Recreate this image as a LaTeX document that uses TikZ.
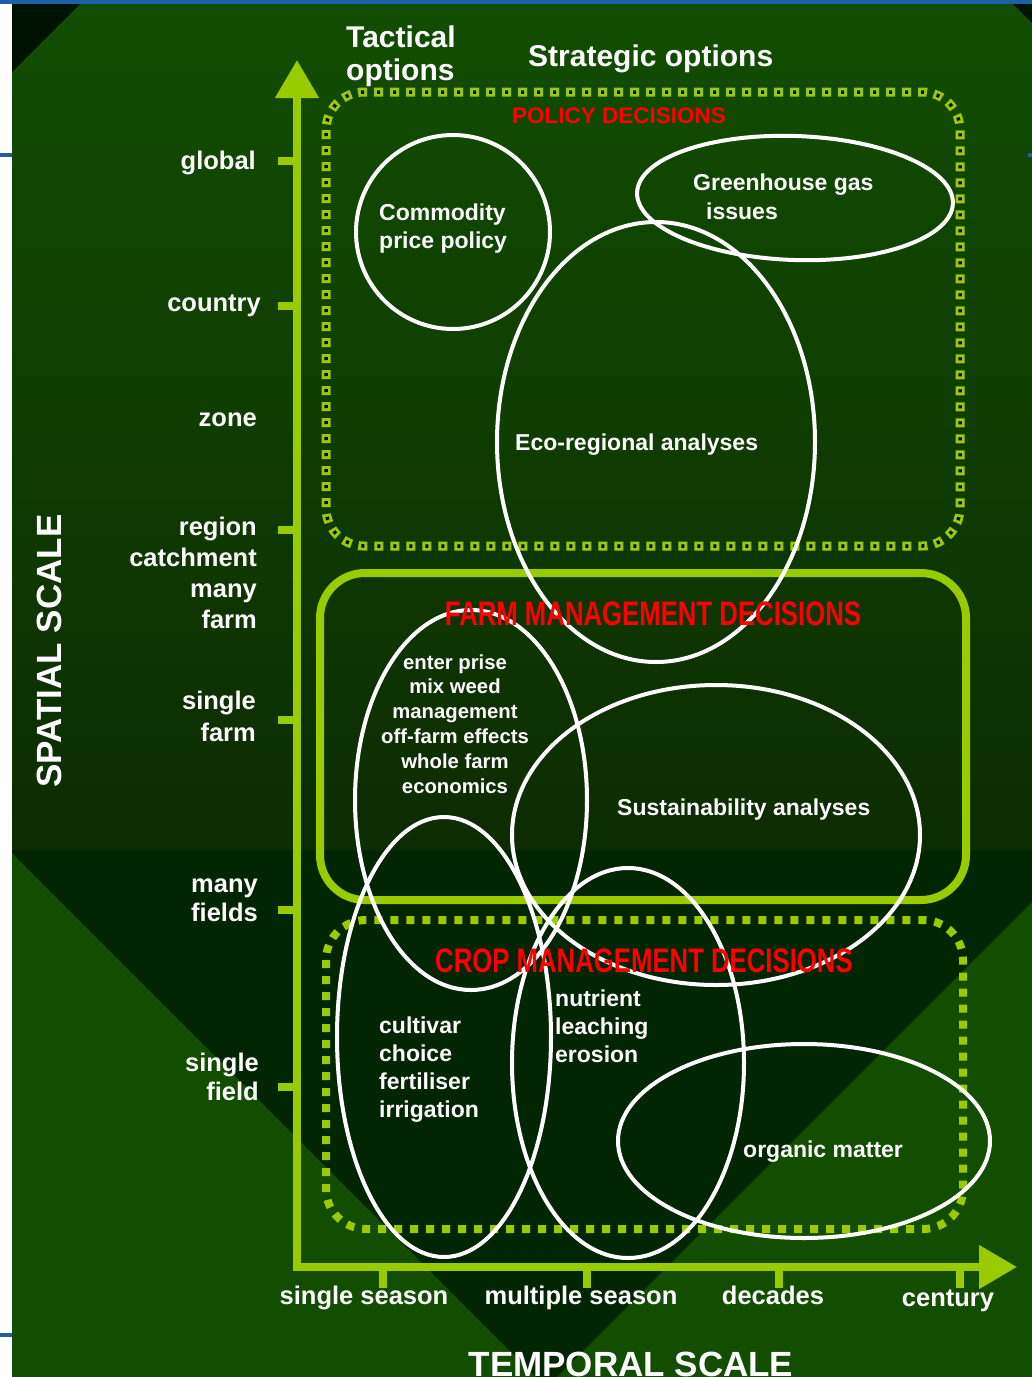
\documentclass[tikz,border=0pt]{standalone}
\usepackage{fontspec}
\setmainfont{Liberation Sans}
\usepackage{graphicx}
\usetikzlibrary{arrows.meta}
\definecolor{lime}{HTML}{99CC00}
\definecolor{bgtop}{HTML}{124D02}
\definecolor{bgmid}{HTML}{0C2C02}
\definecolor{bgdark}{HTML}{022602}
\definecolor{bgblack}{HTML}{001200}
\definecolor{edgeblue}{HTML}{1F5FA8}
\definecolor{decred}{HTML}{FF0000}
\newcommand\setfs[2]{\fontsize{#1pt}{#2pt}\selectfont}
\begin{document}
\begin{tikzpicture}[x=1pt,y=-1pt,
  axisline/.style={draw=lime,line width=8pt},
  tickmark/.style={draw=lime,line width=8pt},
  ell/.style={draw=white,line width=4pt},
  scalelbl/.style={text=white,font=\bfseries\setfs{25.5}{31},inner sep=0pt},
  titlelbl/.style={text=white,font=\bfseries\setfs{30}{33},inner sep=0pt},
  biglbl/.style={text=white,font=\bfseries\setfs{35}{40},inner sep=0pt},
  inlbl/.style={text=white,font=\bfseries\setfs{23}{27.7},inner sep=0pt},
  smalllbl/.style={text=white,font=\bfseries\setfs{20.3}{24.8},inner sep=0pt},
  redlbl/.style={text=decred,font=\bfseries\setfs{34}{40},inner sep=0pt},
  redsmall/.style={text=decred,font=\bfseries\setfs{22.5}{26},inner sep=0pt}
]
\useasboundingbox (0,0) rectangle (1032,1377);
% background
\fill[white] (0,0) rectangle (1032,1377);
\shade[top color=bgtop,bottom color=bgmid] (12,4) rectangle (1032,850);
\fill[bgdark] (12,850) rectangle (1032,1377);
\fill[bgtop] (12,853) -- (12,1377) -- (536,1377) -- cycle;
\fill[bgtop] (1032,902) -- (1032,1377) -- (557,1377) -- cycle;
\fill[bgblack] (12,4) -- (80,4) -- (12,72) -- cycle;
\fill[bgblack] (1013,4) -- (1032,4) -- (1032,23) -- cycle;
\fill[edgeblue] (0,0) rectangle (1032,4);
\fill[edgeblue] (0,153) rectangle (12,157);
\fill[edgeblue] (0,1333) rectangle (12,1337);
\fill[edgeblue] (1028,153) rectangle (1032,157);

% axes
\coordinate (origin) at (297,1271);
\coordinate (ytop) at (297,60);
\coordinate (xorigin) at (293,1267);
\coordinate (xend) at (1017,1267);
\draw[axisline,-{Triangle[length=38pt,width=42pt]}] (origin) -- (ytop);
\draw[axisline,-{Triangle[length=38pt,width=42pt]}] (xorigin) -- (xend);
% ticks
\foreach \yy in {161,306,530,720,910,1087} \draw[tickmark] (297,\yy) -- (278,\yy);
\foreach \xx in {383,587,779,960} \draw[tickmark] (\xx,1267) -- (\xx,1288);

% decision boxes
\draw[lime,line width=9pt,dash pattern=on 9pt off 7pt,rounded corners=38pt] (326,92) rectangle (960,546);
\draw[black,line width=3.5pt,dash pattern=on 3pt off 13pt,dash phase=13pt,rounded corners=38pt] (326,92) rectangle (960,546);
\draw[lime,line width=8pt,rounded corners=45pt] (320,573) rectangle (966,900);
\draw[lime,line width=8pt,dash pattern=on 8pt off 8pt,rounded corners=40pt] (326,920) rectangle (963,1229);

% ellipses
\draw[ell] (453,232) ellipse (97 and 97);
\draw[ell,rotate around={-2:(795,198)}] (795,198) ellipse (158 and 62);
\draw[ell] (656,442) ellipse (159 and 220);
\draw[ell] (471,800) ellipse (116 and 190);
\draw[ell] (444,1037) ellipse (107 and 220);
\draw[ell] (628,1063) ellipse (116 and 195);
\draw[ell] (716,835) ellipse (204 and 150);
\draw[ell] (804,1141) ellipse (186 and 97);

% titles
\node[titlelbl,anchor=base west,align=left] (tactical) at (346,80) {Tactical\\options};
\node[titlelbl,anchor=base west] (strategic) at (528,66) {Strategic options};
\node[biglbl,rotate=90,anchor=base] (spatial) at (61,651) {SPATIAL SCALE};
\node[biglbl,anchor=base] (temporal) at (631,1376) {TEMPORAL SCALE};

% spatial labels
\node[scalelbl,anchor=base east] (lglobal) at (256,169) {global};
\node[scalelbl,anchor=base east] (lcountry) at (261,311) {country};
\node[scalelbl,anchor=base east] (lzone) at (257,426) {zone};
\node[scalelbl,anchor=base east,align=right] (lregion) at (257,628) {region\\catchment\\many\\farm};
\node[scalelbl,anchor=base east,align=right,font=\bfseries\setfs{25.5}{32}] (lsfarm) at (256,741) {single\\farm};
\node[scalelbl,anchor=base east,align=right,font=\bfseries\setfs{25.5}{29}] (lmfields) at (258,921) {many\\fields};
\node[scalelbl,anchor=base east,align=right,font=\bfseries\setfs{25.5}{29}] (lsfield) at (259,1100) {single\\field};

% temporal labels
\node[scalelbl,anchor=base] (tsingle) at (364,1304) {single season};
\node[scalelbl,anchor=base] (tmulti) at (581,1304) {multiple season};
\node[scalelbl,anchor=base] (tdecades) at (773,1304) {decades};
\node[scalelbl,anchor=base] (tcentury) at (948,1306) {century};

% inner labels
\node[inlbl,anchor=base west,align=left] (commodity) at (379,248) {Commodity\\price policy};
\node[inlbl,anchor=base west,align=left,font=\bfseries\setfs{23}{29}] (greenhouse) at (693,219) {Greenhouse gas\\\hspace*{13pt}issues};
\node[inlbl,anchor=base west] (ecoreg) at (515,450) {Eco-regional analyses};
\node[smalllbl,anchor=base,align=center] (enterprise) at (455,793) {enter prise\\mix weed\\management\\off-farm effects\\whole farm\\economics};
\node[inlbl,anchor=base west] (sustain) at (617,815) {Sustainability analyses};
\node[inlbl,anchor=base west,align=left] (cultivar) at (379,1117) {cultivar\\choice\\fertiliser\\irrigation};
\node[inlbl,anchor=base west,align=left,font=\bfseries\setfs{23}{27.9}] (nutrient) at (555,1062) {nutrient\\leaching\\erosion};
\node[inlbl,anchor=base west] (organic) at (743,1157) {organic matter};

% decision labels
\node[redsmall,anchor=base] (policy) at (619,123) {POLICY DECISIONS};
\node[redlbl,anchor=base] (farm) at (653,625) {\scalebox{0.757}[1]{FARM MANAGEMENT DECISIONS}};
\node[redlbl,anchor=base] (crop) at (644,972) {\scalebox{0.757}[1]{CROP MANAGEMENT DECISIONS}};
\end{tikzpicture}
\end{document}
